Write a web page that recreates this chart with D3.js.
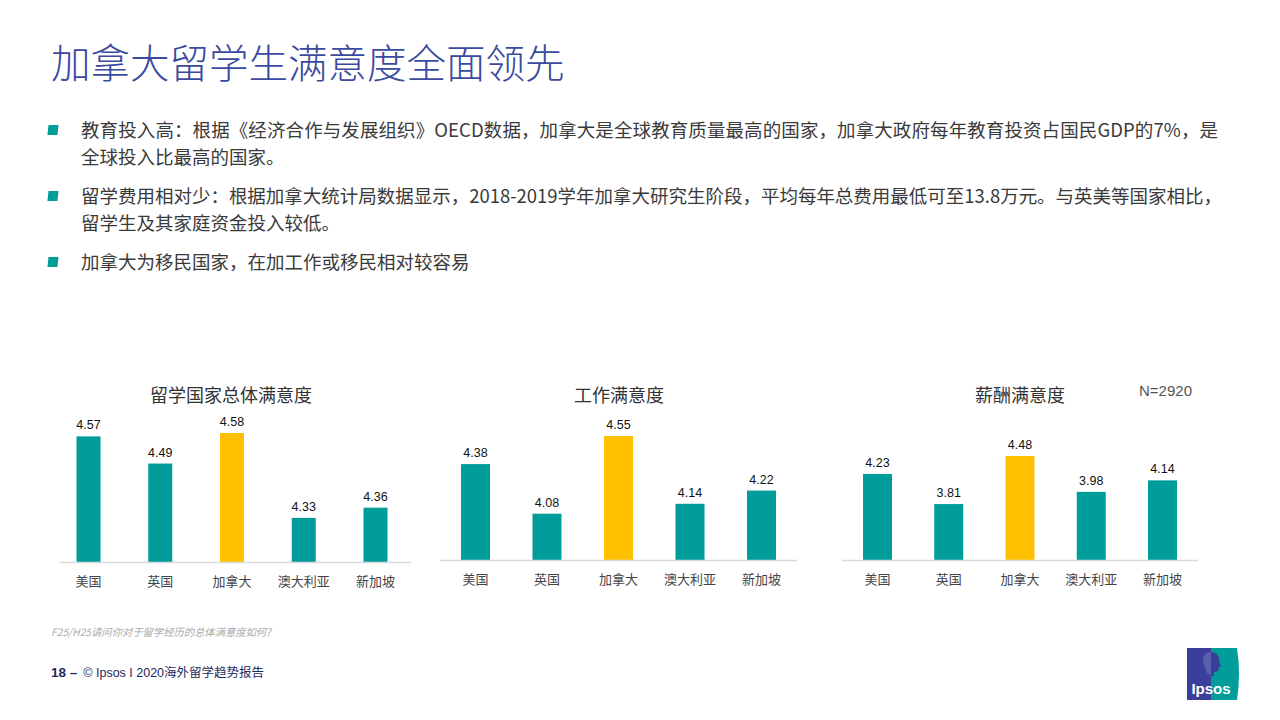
<!DOCTYPE html>
<html><head><meta charset="utf-8">
<script src="https://cdn.jsdelivr.net/npm/d3@7"></script>
<style>
html,body{margin:0;padding:0;background:#fff;}
svg{display:block;}
</style></head>
<body>
<svg id="c" width="1280" height="720"></svg>
<script>
const titleText = "加拿大留学生满意度全面领先";
const bullets = [
  ["教育投入高：根据《经济合作与发展组织》OECD数据，加拿大是全球教育质量最高的国家，加拿大政府每年教育投资占国民GDP的7%，是", "全球投入比最高的国家。"],
  ["留学费用相对少：根据加拿大统计局数据显示，2018-2019学年加拿大研究生阶段，平均每年总费用最低可至13.8万元。与英美等国家相比，", "留学生及其家庭资金投入较低。"],
  ["加拿大为移民国家，在加工作或移民相对较容易"]
];
const categories = ["美国", "英国", "加拿大", "澳大利亚", "新加坡"];
const chartTitles = ["留学国家总体满意度", "工作满意度", "薪酬满意度"];
const overallValues = [4.57, 4.49, 4.58, 4.33, 4.36];
const workValues = [4.38, 4.08, 4.55, 4.14, 4.22];
const salaryValues = [4.23, 3.81, 4.48, 3.98, 4.14];
const axisMins = [4.2, 3.8, 3.03];
const highlight = "加拿大";
const sampleNote = "N=2920";
const footnote = "F25/H25请问你对于留学经历的总体满意度如何?";
const footerPage = "18 –";
const footerText = "© Ipsos I 2020海外留学趋势报告";

const svg = d3.select("#c");
const CJK = "'Noto Sans CJK SC','Noto Sans',sans-serif";
const ARIAL = "'Liberation Sans',Arial,sans-serif";
const TEAL = "#009d9a", GOLD = "#ffc000";

// Title
svg.append("text").attr("x", 51).attr("y", 78)
  .attr("font-family", CJK).attr("font-size", 39.5).attr("font-weight", 300)
  .attr("fill", "#3a4a9f").text(titleText);

// Bullets
const lineTops = [[130, 157], [196, 223], [262]];
const fullLineWidth = [[1137, null], [1141, null], [null]];
bullets.forEach((lines, i) => {
  svg.append("rect").attr("x", 48).attr("y", lineTops[i][0] - 5).attr("width", 10).attr("height", 10)
    .attr("fill", TEAL).attr("transform", `skewX(-6) translate(${lineTops[i][0]*0.105},0)`);
  lines.forEach((t, j) => {
    const tx = svg.append("text").attr("x", 81).attr("y", lineTops[i][j] + 6.5)
      .attr("font-family", CJK).attr("font-size", 18.5).attr("fill", "#3a3a3a").text(t);
    if (fullLineWidth[i][j]) tx.attr("textLength", fullLineWidth[i][j]).attr("lengthAdjust", "spacing");
  });
});

// Charts
const datasets = [overallValues, workValues, salaryValues];
const panels = [
  {x0: 60, x1: 411, base: 562, top: 433, maxV: 4.58, bw: 24, cx: [88.5, 160.5, 232, 303.5, 375.5], titleX: 231},
  {x0: 440, x1: 797, base: 560, top: 436, maxV: 4.55, bw: 29, cx: [475.5, 547.5, 618.5, 689.5, 761.5], titleX: 619},
  {x0: 842, x1: 1198, base: 560, top: 456, maxV: 4.48, bw: 29, cx: [877.5, 949.5, 1020.5, 1091.5, 1162.5], titleX: 1020}
];
panels.forEach((p, i) => {
  const g = svg.append("g");
  const vals = datasets[i];
  const first = p.cx[0], last = p.cx[4];
  const step = (last - first) / 4;
  const x = d3.scaleBand().domain(categories)
    .range([first - step / 2, last + step / 2]).paddingInner(1 - p.bw / step).paddingOuter((1 - p.bw / step) / 2);
  const y = d3.scaleLinear().domain([axisMins[i], p.maxV]).range([p.base, p.top]);
  g.append("text").attr("x", p.titleX).attr("y", 402).attr("text-anchor", "middle")
    .attr("font-family", CJK).attr("font-size", 18).attr("fill", "#333").text(chartTitles[i]);
  g.selectAll("rect.bar").data(vals).join("rect").attr("class", "bar")
    .attr("x", (d, k) => x(categories[k])).attr("width", x.bandwidth())
    .attr("y", d => y(d)).attr("height", d => p.base - y(d))
    .attr("fill", (d, k) => categories[k] === highlight ? GOLD : TEAL);
  g.selectAll("text.val").data(vals).join("text").attr("class", "val")
    .attr("x", (d, k) => x(categories[k]) + x.bandwidth() / 2).attr("y", d => y(d) - 7)
    .attr("text-anchor", "middle").attr("font-family", ARIAL).attr("font-size", 12.5).attr("fill", "#111")
    .text(d => d.toFixed(2));
  g.append("line").attr("x1", p.x0).attr("x2", p.x1).attr("y1", p.base + 0.5).attr("y2", p.base + 0.5)
    .attr("stroke", "#d9d9d9").attr("stroke-width", 1.5);
  const ax = d3.axisBottom(x).tickSize(0).tickPadding(0);
  const axG = g.append("g").attr("transform", `translate(0,${p.base + 24})`).call(ax);
  axG.select(".domain").remove();
  axG.selectAll("text").attr("font-family", CJK).attr("font-size", 13).attr("fill", "#444").attr("dy", 0);
});

svg.append("text").attr("x", 1192).attr("y", 396).attr("text-anchor", "end")
  .attr("font-family", ARIAL).attr("font-size", 15).attr("fill", "#555").text(sampleNote);

// Footnote
svg.append("text").attr("x", 51).attr("y", 636).attr("font-family", CJK).attr("font-size", 10.3)
  .attr("font-style", "italic").attr("fill", "#aaa").text(footnote);

// Footer
const ft = svg.append("text").attr("x", 51).attr("y", 677).attr("font-family", ARIAL).attr("font-size", 12.5).attr("fill", "#1e2a5e");
ft.append("tspan").attr("font-weight", "bold").attr("font-size", 13.5).text(footerPage);
ft.append("tspan").attr("dx", 6).attr("font-family", "'Liberation Sans','Noto Sans CJK SC',sans-serif").text(footerText);

// Ipsos logo
const lg = svg.append("g").attr("transform", "translate(1187,648)");
lg.append("path").attr("d", "M0,0 L50,0 Q54,25 50,52 L0,52 Z").attr("fill", TEAL);
lg.append("path").attr("d", "M0,0 L24,0 L24,52 L0,52 Z").attr("fill", "#3b3f99");
lg.append("path").attr("d", "M24,4 C16,4 15,12 17,17 C18,21 20,22 20,25 L24,27 Z").attr("fill", "#5b60b0");
lg.append("path").attr("d", "M24,4 C31,4 33,10 32,14 L34,18 L32,19 C32,23 30,24 27,24 L27,28 L24,28 Z").attr("fill", "#3b3f99");
lg.append("text").attr("x", 24).attr("y", 46).attr("text-anchor", "middle").attr("font-family", ARIAL)
  .attr("font-weight", "bold").attr("font-size", 15).attr("fill", "#fff").text("Ipsos");
</script>
</body></html>
